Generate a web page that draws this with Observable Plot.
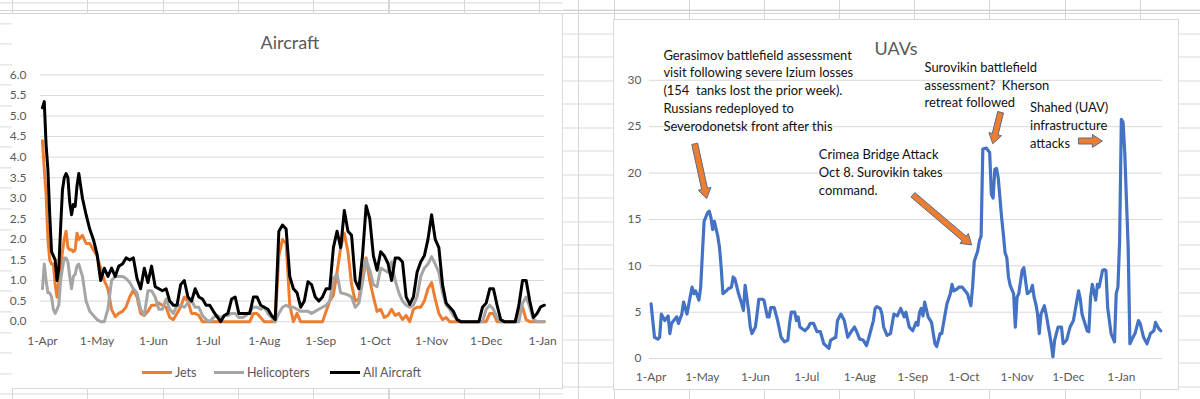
<!DOCTYPE html>
<html>
<head>
<meta charset="utf-8">
<script src="https://cdn.jsdelivr.net/npm/d3@7"></script>
<script src="https://cdn.jsdelivr.net/npm/@observablehq/plot@0.6"></script>
<style>
  html, body { margin:0; padding:0; width:1200px; height:399px; overflow:hidden; background:#fff; font-family: Lato, "Open Sans", sans-serif; }
  .pane { position:absolute; top:0; height:399px; }
  #paneL { left:0; width:563px;
    background-image:
      repeating-linear-gradient(to right, #d6d6d6 0px, #d6d6d6 1px, transparent 1px, transparent 75.3px),
      repeating-linear-gradient(to bottom, #d9d9d9 0px, #d9d9d9 1px, transparent 1px, transparent 20.6px);
    background-position: 12px 0, 0 2.4px; }
  #paneR { left:563px; width:637px;
    background-image:
      repeating-linear-gradient(to right, #d6d6d6 0px, #d6d6d6 1px, transparent 1px, transparent 75.1px),
      repeating-linear-gradient(to bottom, #d9d9d9 0px, #d9d9d9 1px, transparent 1px, transparent 23.55px);
    background-position: 51px 0, 0 9.5px; }
  .hline { position:absolute; height:1px; background:#d4d4d4; }
  .box { position:absolute; background:#fff; box-sizing:border-box; }
  #boxL { left:12px; top:14px; width:551px; height:375px; border-right:1px solid #d9d9d9; border-bottom:1px solid #d9d9d9; overflow:visible; }
  #boxR { left:613px; top:19px; width:566px; height:371px; border:1px solid #d9d9d9; overflow:hidden; }
  .box svg { position:absolute; left:0; top:0; }
  .title { position:absolute; font-size:18px; color:#595959; transform:translateX(-50%); white-space:nowrap; }
  .legend { position:absolute; top:351px; left:0; font-size:12.5px; color:#595959; }
  .lg { position:absolute; top:0; white-space:nowrap; display:flex; align-items:center; }
  .lg i { display:inline-block; width:30px; height:3px; margin-right:3px; }
</style>
</head>
<body>
<div class="pane" id="paneL"></div>
<div class="pane" id="paneR"></div>
<div class="hline" style="left:0;top:10px;width:1200px"></div>
<div class="hline" style="left:0;top:13px;width:1200px"></div>
<div class="box" id="boxL">
  <div class="title" style="left:278px;top:17px">Aircraft</div>
  <div class="legend" id="legendL"></div>
</div>
<div class="box" id="boxR">
  <div class="title" style="left:282px;top:17px">UAVs</div>
</div>
<script>
// ---------- DATA ----------
const startDate = Date.UTC(2022, 3, 1); // 1-Apr-2022, day 0

// Aircraft chart: day offsets from 1-Apr
const aircraftDay = [0,1,2,3,4,5,6,7,8,9,10,11,12,13,14,15,16,17,18,19,20,
  22,24,26,28,30,32,34,36,38,40,42,44,46,48,50,
  52,54,56,58,60,62,64,66,68,70,72,74,76,78,80,82,84,86,88,90,92,94,96,98,
  100,102,104,106,108,110,112,114,116,118,120,122,124,126,128,130,132,134,136,138,140,142,144,146,148,
  150,152,154,156,158,160,162,164,166,168,170,172,174,176,178,180,182,184,186,188,190,192,194,196,198,
  200,202,204,206,208,210,212,214,216,218,220,222,224,226,228,230,232,234,236,238,240,242,244,246,248,
  250,252,254,256,258,260,262,264,266,268,270,272,274,276];

const jets = [4.4,3.7,3.1,2.0,1.5,1.4,1.4,0.9,0.6,1.0,1.35,1.7,2.0,2.2,1.8,1.75,1.75,1.7,1.75,2.15,2.0,
  2.1,1.9,1.9,1.75,1.6,1.3,1.0,0.8,0.3,0.12,0.2,0.25,0.36,0.6,0.77,
  0.6,0.2,0.15,0.25,0.4,0.4,0.45,0.4,0.35,0.1,0.05,0.2,0.36,0.6,0.5,0.2,0.2,0.15,0,0,0,0,0,0,
  0,0,0,0,0,0,0,0,0.2,0.2,0.1,0,0,0,0,1.6,2.0,1.9,0.4,0,0.2,0,0,0,0,
  0,0,0,0.25,0.5,0.65,1.2,1.8,2.15,1.7,0.9,0.5,0.55,1.1,1.55,1.0,0.6,0.25,0.3,0.1,0.15,0.3,0.15,0.2,0.05,
  0.15,0,0.3,0.35,0.35,0.5,0.8,0.95,0.55,0.2,0.05,0.1,0,0,0,0,0,0,0,0,0,0,0,0.2,0.2,
  0,0,0,0,0,0,0.3,0.35,0.05,0,0,0,0,0];

const helicopters = [0.8,1.4,1.0,0.7,0.7,0.6,0.3,0.2,0.3,0.4,1.0,1.3,1.55,1.55,1.45,1.1,0.8,1.1,1.15,1.35,1.4,
  1.1,0.5,0.25,0.15,0.05,0,0,0.3,1.0,1.1,1.1,1.1,1.05,0.95,0.8,
  0.7,0.3,0.15,0.75,0.75,0.6,0.3,0.3,0.55,0.3,0.2,0.4,0.4,0.35,0.45,0.5,0.35,0.35,0.15,0.05,0,0.1,0.15,0.1,
  0.15,0.15,0.2,0.2,0.1,0.1,0.15,0.25,0.35,0.35,0.3,0.35,0.2,0.1,0,0.2,0.35,0.4,0.35,0.35,0.3,0.25,0.25,0.25,0.2,
  0.25,0.3,0.35,0.4,0.5,1.05,1.15,0.7,0.68,0.65,0.6,0.35,0.45,0.95,1.5,1.25,0.9,0.85,1.3,1.25,1.2,1.45,1.0,0.7,0.5,
  0.4,0.35,0.4,0.6,1.1,1.3,1.4,1.58,1.4,1.2,0.7,0.4,0.3,0.15,0.05,0,0,0,0,0,0,0,0.3,0.4,0.3,
  0.1,0,0,0,0,0,0,0.45,0.6,0.35,0.05,0,0,0];

const allAircraft = [5.2,5.35,4.3,3.7,2.6,1.7,1.6,1.5,1.0,1.3,2.3,3.2,3.5,3.6,3.5,2.9,2.6,2.85,2.8,3.3,3.6,
  3.0,2.6,2.25,2.0,1.65,1.0,1.3,1.1,1.3,1.1,1.35,1.4,1.55,1.5,1.55,
  1.05,0.8,1.3,0.95,1.35,0.85,0.8,0.75,0.8,0.5,0.4,0.4,0.9,1.0,0.6,0.5,0.8,0.6,0.55,0.4,0.4,0.25,0.12,0,
  0.15,0.2,0.55,0.6,0.2,0.2,0.2,0.2,0.6,0.6,0.4,0.35,0.3,0.15,0.05,2.2,2.35,2.25,1.1,0.8,0.7,0.35,0.5,0.97,0.9,
  0.6,0.5,0.6,0.8,0.8,1.8,2.2,1.8,2.7,2.2,2.1,1.0,0.8,1.6,2.82,2.5,1.6,1.25,1.7,1.6,1.42,1.0,1.55,1.55,1.45,
  0.6,0.42,0.6,1.2,1.45,1.6,2.0,2.6,2.0,1.8,0.9,0.45,0.35,0.25,0.05,0,0,0,0,0,0,0.35,0.45,0.8,0.8,
  0.4,0.05,0,0,0,0,0.4,1.0,1.0,0.5,0.1,0.2,0.36,0.4];

const aircraftSeries = ["Jets", "Helicopters", "All Aircraft"];
const aircraftColors = ["#ED7D31", "#A5A5A5", "#000000"];
const aircraftYTicks = [0,0.5,1,1.5,2,2.5,3,3.5,4,4.5,5,5.5,6];

// UAV chart: day offsets from 1-Apr and values
const uavDay = [0,1,2,4,5,6,8,10,11,12,15,16,18,19,21,23,24,25,26,28,29,30,31,33,34,35,36,37,39,40,41,42,44,45,47,48,49,51,53,54,55,57,58,59,61,62,63,65,66,68,69,70,72,74,76,78,80,81,82,84,85,86,87,90,92,93,95,97,99,101,104,105,108,109,111,113,115,117,119,120,122,124,126,128,130,131,132,134,135,136,138,140,142,144,146,148,149,151,153,155,156,157,158,159,160,162,164,166,167,169,170,171,173,175,176,177,179,180,182,185,187,188,189,191,192,193,194,196,198,199,200,201,202,203,205,206,207,208,209,210,212,213,214,215,217,218,219,220,222,223,224,225,226,227,228,230,231,233,234,235,236,238,240,241,243,245,247,248,250,251,252,255,256,257,258,260,261,262,264,265,266,267,269,271,272,273,274,275,276,277,278,279,280,281,283,285,286,288,290,292,294,295,297,298];
const uavValue = [5.9,4.1,2.3,2.1,2.3,4.8,4.1,4.6,2.7,3.8,4.5,3.8,4.8,6.1,4.8,6.8,7.7,7.0,7.3,6.3,7.7,11.3,14.8,15.7,15.9,15.2,13.9,14.8,13.2,12.0,9.8,7.0,7.3,7.5,7.7,8.8,8.6,7.1,5.9,5.2,7.9,5.2,3.4,2.7,3.4,4.8,6.4,6.4,6.3,4.5,4.5,5.5,5.5,4.1,2.3,1.8,2.0,3.8,5.0,5.0,4.1,4.5,3.4,3.0,3.4,3.8,3.8,2.9,2.9,1.6,1.1,2.0,2.3,4.1,4.8,4.1,2.3,2.9,3.4,3.0,2.1,2.0,1.4,2.7,4.1,5.4,5.6,5.4,4.8,3.4,2.5,2.7,4.8,4.6,5.4,4.5,5.0,3.4,3.0,3.9,3.6,5.0,5.4,4.6,6.1,4.5,3.9,1.6,1.3,2.7,2.7,3.8,5.9,7.0,8.0,7.3,7.5,7.7,7.7,7.0,5.7,7.7,10.5,11.6,12.7,13.2,22.6,22.7,22.2,17.7,17.3,20.4,20.5,19.5,15.2,13.4,11.4,10.9,8.8,7.9,7.0,3.4,6.6,7.0,9.5,9.8,8.4,7.0,7.3,7.9,6.6,5.9,4.8,2.7,4.8,5.7,4.8,2.7,1.6,0.2,2.0,3.4,3.4,1.6,2.0,3.4,4.1,5.2,7.3,6.4,4.8,3.0,2.9,6.6,8.0,6.3,8.0,7.7,9.5,9.6,9.5,5.5,2.7,1.8,7.0,7.7,12.7,25.8,25.5,22.2,17.0,12.0,1.6,2.0,2.7,4.1,3.8,2.3,1.6,2.7,3.0,3.9,3.2,3.0];
const uavYTicks = [0,5,10,15,20,25,30];

const monthTicks = ["2022-04-01","2022-05-01","2022-06-01","2022-07-01","2022-08-01","2022-09-01","2022-10-01","2022-11-01","2022-12-01","2023-01-01"];

// Annotations (anchor = top-left of text block, in date-offset / value units)
const noteText = [
  "Gerasimov battlefield assessment\nvisit following severe Izium losses\n(154  tanks lost the prior week).\nRussians redeployed to\nSeverodonetsk front after this",
  "Crimea Bridge Attack\nOct 8. Surovikin takes\ncommand.",
  "Surovikin battlefield\nassessment?  Kherson\nretreat followed",
  "Shahed (UAV)\ninfrastructure\nattacks"
];
const noteDay = [7.2, 98.1, 159.9, 221.6];
const noteValue = [33.6, 22.9, 32.3, 27.9];

// Block arrows: tail (day, value) -> tip (day, value)
const arrowDay1 = [25.8, 153.4, 204.7, 250.2];
const arrowValue1 = [23.1, 17.6, 26.5, 23.4];
const arrowDay2 = [32.8, 187.8, 200.1, 264.2];
const arrowValue2 = [17.2, 12.2, 23.1, 23.4];

// ---------- HELPERS ----------
const dayToDate = d => new Date(startDate + d * 864e5);
const fmtMonth = d3.utcFormat("%-d-%b");
const tickDates = monthTicks.map(s => new Date(s + "T00:00:00Z"));
const font = "Lato, 'Open Sans', sans-serif";

// ---------- AIRCRAFT ----------
const seriesValues = [jets, helicopters, allAircraft];
const aircraftRows = [];
aircraftSeries.forEach((name, k) => {
  aircraftDay.forEach((d, i) => aircraftRows.push({date: dayToDate(d), value: seriesValues[k][i], series: name}));
});

const left = Plot.plot({
  width: 551, height: 375,
  marginLeft: 28, marginRight: 18, marginTop: 60.5, marginBottom: 67.3,
  style: {fontFamily: font, fontSize: "12px", color: "#595959", background: "transparent", overflow: "visible"},
  x: {type: "utc", domain: [dayToDate(-1.1), dayToDate(276.1)], ticks: tickDates, tickFormat: fmtMonth, tickSize: 0, tickPadding: 15, label: null},
  y: {domain: [0, 6], ticks: aircraftYTicks, tickFormat: d3.format(".1f"), tickSize: 0, tickPadding: 14, label: null},
  color: {domain: aircraftSeries, range: aircraftColors},
  marks: [
    Plot.ruleY(aircraftYTicks, {stroke: "#d9d9d9", strokeWidth: 1}),
    Plot.line(aircraftRows, {x: "date", y: "value", z: "series", stroke: "series", strokeWidth: 3, strokeLinejoin: "round", strokeLinecap: "round"})
  ]
});
document.getElementById("boxL").prepend(left);

// legend
const legendL = document.getElementById("legendL");
const legendX = [130, 202, 318];
aircraftSeries.forEach((name, k) => {
  const item = document.createElement("div");
  item.className = "lg";
  item.style.left = legendX[k] + "px";
  item.innerHTML = `<i style="background:${aircraftColors[k]}"></i><span>${name}</span>`;
  legendL.appendChild(item);
});

// ---------- UAV ----------
const uavRows = uavDay.map((d, i) => ({date: dayToDate(d), value: uavValue[i]}));
const notes = noteText.map((t, i) => ({text: t, date: dayToDate(noteDay[i]), value: noteValue[i]}));

const right = Plot.plot({
  width: 566, height: 371,
  marginLeft: 35, marginRight: 16, marginTop: 60, marginBottom: 31.7,
  style: {fontFamily: font, fontSize: "12px", color: "#595959", background: "transparent", overflow: "visible"},
  x: {type: "utc", domain: [dayToDate(-1), dayToDate(299.1)], ticks: tickDates, tickFormat: fmtMonth, tickSize: 0, tickPadding: 14, label: null},
  y: {domain: [0, 30], ticks: uavYTicks, tickSize: 0, tickPadding: 8, label: null},
  marks: [
    Plot.ruleY(uavYTicks, {stroke: "#d9d9d9", strokeWidth: 1}),
    Plot.line(uavRows, {x: "date", y: "value", stroke: "#4472C4", strokeWidth: 3.2, strokeLinejoin: "round", strokeLinecap: "round"}),
    Plot.text(notes, {x: "date", y: "value", text: "text", textAnchor: "start", lineAnchor: "top", lineHeight: 1.38, fontSize: 13, fill: "#111", clip: false})
  ]
});
document.getElementById("boxR").prepend(right);

// block arrows drawn through the plot's own scales
(function drawArrows() {
  const xs = right.scale("x"), ys = right.scale("y");
  const fx = typeof xs.apply === "function" ? v => xs.apply(v) : d3.scaleUtc(xs.domain, xs.range);
  const fy = typeof ys.apply === "function" ? v => ys.apply(v) : d3.scaleLinear(ys.domain, ys.range);
  const ns = "http://www.w3.org/2000/svg";
  const g = document.createElementNS(ns, "g");
  arrowDay1.forEach((d, i) => {
    const x1 = fx(dayToDate(d)), y1 = fy(arrowValue1[i]);
    const x2 = fx(dayToDate(arrowDay2[i])), y2 = fy(arrowValue2[i]);
    const len = Math.hypot(x2 - x1, y2 - y1), ux = (x2 - x1) / len, uy = (y2 - y1) / len;
    const nx = -uy, ny = ux, w = 3, h = 6.5, L = 10;
    const bx = x2 - ux * L, by = y2 - uy * L;
    const pts = [
      [x1 + nx * w, y1 + ny * w], [bx + nx * w, by + ny * w], [bx + nx * h, by + ny * h], [x2, y2],
      [bx - nx * h, by - ny * h], [bx - nx * w, by - ny * w], [x1 - nx * w, y1 - ny * w]
    ];
    const p = document.createElementNS(ns, "polygon");
    p.setAttribute("points", pts.map(q => q.join(",")).join(" "));
    p.setAttribute("fill", "#ED7D31");
    p.setAttribute("stroke", "#5b6b85");
    p.setAttribute("stroke-width", "1");
    p.setAttribute("stroke-linejoin", "miter");
    g.appendChild(p);
  });
  right.appendChild(g);
})();
</script>
</body>
</html>
